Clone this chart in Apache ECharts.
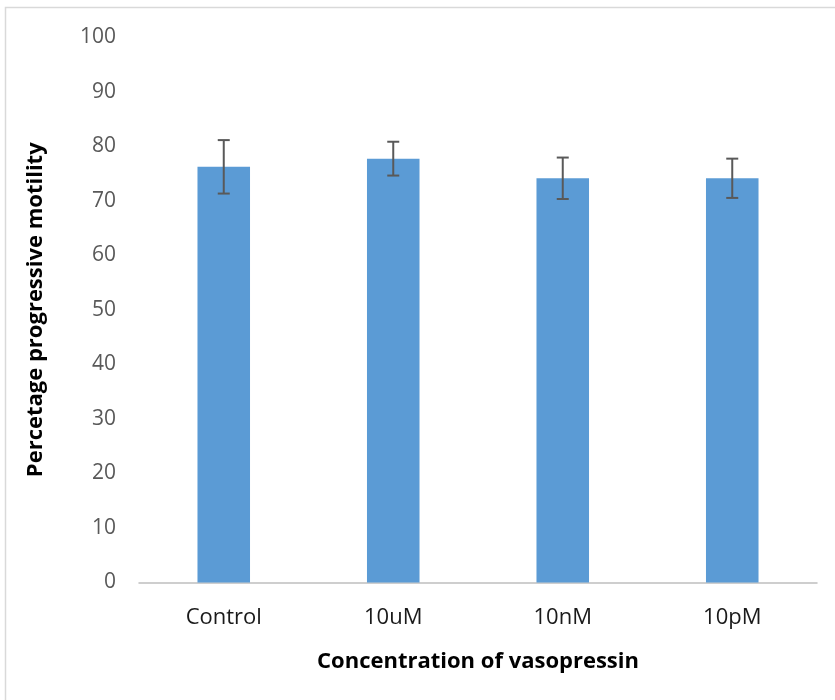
<!DOCTYPE html>
<html><head><meta charset="utf-8">
<script src="https://cdn.jsdelivr.net/npm/echarts@6/dist/echarts.min.js"></script>
<style>html,body{margin:0;padding:0;background:#fff}#c{width:835px;height:700px}</style>
</head><body><div id="c"></div>
<script>
const categories = ['Control', '10uM', '10nM', '10pM'];
const values = [76.2, 77.7, 74.1, 74.1];
const errors = [4.9, 3.1, 3.8, 3.6];
const yTicks = [0, 10, 20, 30, 40, 50, 60, 70, 80, 90, 100];

const chart = echarts.init(document.getElementById('c'));
const errData = categories.map((c, i) => [i, values[i] - errors[i], values[i] + errors[i]]);
chart.setOption({
  animation: false,
  graphic: [{type: 'polyline', shape: {points: [[5.5, 700], [5.5, 7.5], [835, 7.5]]}, style: {stroke: '#d9d9d9', lineWidth: 1.5, fill: null}}],
  grid: {left: 139, right: 18, top: 37, bottom: 117.5},
  xAxis: {
    type: 'category', data: categories,
    axisLine: {lineStyle: {color: '#bfbfbf', width: 1.5}},
    axisTick: {show: false},
    axisLabel: {color: '#1a1a1a', fontSize: 22, fontFamily: 'Open Sans', margin: 24},
    name: 'Concentration of vasopressin', nameLocation: 'middle', nameGap: 68,
    nameTextStyle: {color: '#000', fontSize: 22, fontWeight: 'bold', fontFamily: 'Open Sans'}
  },
  yAxis: {
    type: 'value', min: 0, max: 100, interval: 10,
    axisLine: {show: false}, axisTick: {show: false}, splitLine: {show: false},
    axisLabel: {color: '#595959', fontSize: 21, fontFamily: 'Open Sans', margin: 23,
      formatter: v => yTicks.includes(v) ? String(v) : ''},
    name: 'Percetage progressive motility', nameLocation: 'middle', nameGap: 92,
    nameTextStyle: {color: '#000', fontSize: 22, fontWeight: 'bold', fontFamily: 'Open Sans'}
  },
  series: [
    {type: 'bar', data: values, barWidth: '31%', itemStyle: {color: '#5b9bd5'}},
    {type: 'custom', data: errData, z: 10,
     renderItem: function (params, api) {
       const x = api.coord([api.value(0), 0])[0];
       const lo = api.coord([api.value(0), api.value(1)])[1];
       const hi = api.coord([api.value(0), api.value(2)])[1];
       const hw = 6;
       const st = {stroke: '#595959', lineWidth: 2};
       return {type: 'group', children: [
         {type: 'line', shape: {x1: x, y1: lo, x2: x, y2: hi}, style: st},
         {type: 'line', shape: {x1: x - hw, y1: lo, x2: x + hw, y2: lo}, style: st},
         {type: 'line', shape: {x1: x - hw, y1: hi, x2: x + hw, y2: hi}, style: st}
       ]};
     }}
  ]
});
</script></body></html>
